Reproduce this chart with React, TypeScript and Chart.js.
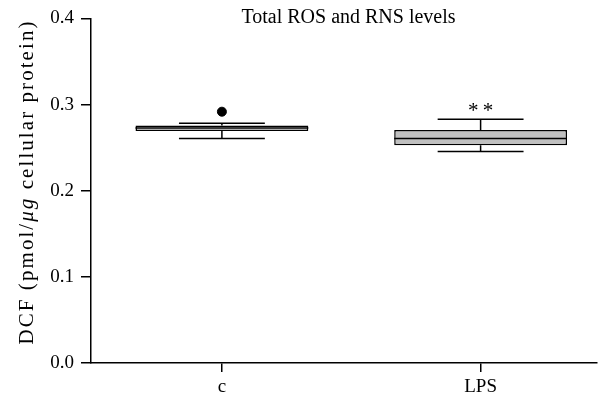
import React, { useEffect, useRef } from "react";
import { Chart, registerables } from "chart.js";

Chart.register(...registerables);

const categories = ["c", "LPS"];
const whiskerMin = [0.2605, 0.2454];
const q1 = [0.2694, 0.2528];
const median = [0.2728, 0.2605];
const q3 = [0.2757, 0.2705];
const whiskerMax = [0.2783, 0.2829];
const outliers = [{ cat: 0, value: 0.2917 }];
const significance = ["", "**"];
const yTicks = [0, 0.1, 0.2, 0.3, 0.4];
const boxColors = ["#e6e6e6", "#c0c0c0"];

const FONT = "'Liberation Serif', 'Times New Roman', serif";

export default function App() {
  const ref = useRef<HTMLCanvasElement | null>(null);

  useEffect(() => {
    if (!ref.current) return;
    const capHalf = 0.166;

    const boxPlugin = {
      id: "boxExtras",
      afterDatasetsDraw(chart: any) {
        const ctx = chart.ctx;
        const xs = chart.scales.x;
        const ys = chart.scales.y;
        const meta = chart.getDatasetMeta(0);
        ctx.save();
        ctx.strokeStyle = "#000";
        ctx.lineWidth = 1.5;
        categories.forEach((_, i) => {
          const bar = meta.data[i];
          const cx = xs.getPixelForValue(i);
          const half = bar.width / 2;
          const my = ys.getPixelForValue(median[i]);
          ctx.beginPath();
          ctx.moveTo(cx - half, my);
          ctx.lineTo(cx + half, my);
          ctx.stroke();
          const yTop = ys.getPixelForValue(q3[i]);
          const yBot = ys.getPixelForValue(q1[i]);
          const yMax = ys.getPixelForValue(whiskerMax[i]);
          const yMin = ys.getPixelForValue(whiskerMin[i]);
          const xl = xs.getPixelForValue(i - capHalf);
          const xr = xs.getPixelForValue(i + capHalf);
          ctx.beginPath();
          ctx.moveTo(cx, yTop);
          ctx.lineTo(cx, yMax);
          ctx.moveTo(xl, yMax);
          ctx.lineTo(xr, yMax);
          ctx.moveTo(cx, yBot);
          ctx.lineTo(cx, yMin);
          ctx.moveTo(xl, yMin);
          ctx.lineTo(xr, yMin);
          ctx.stroke();
          if (significance[i]) {
            ctx.fillStyle = "#000";
            ctx.font = `21px ${FONT}`;
            ctx.textAlign = "center";
            ctx.textBaseline = "middle";
            ctx.fillText(significance[i].split("").join("\u2009"), cx, yMax - 8);
          }
        });
        ctx.restore();
      },
      afterDraw(chart: any) {
        const ctx = chart.ctx;
        ctx.save();
        ctx.fillStyle = "#000";
        ctx.font = `20px ${FONT}`;
        ctx.textAlign = "center";
        ctx.textBaseline = "alphabetic";
        ctx.fillText("Total ROS and RNS levels", 348.5, 23);
        const parts = [
          { t: "DCF (pmol/", it: false },
          { t: "\u03BCg", it: true },
          { t: " cellular protein)", it: false },
        ];
        const size = 21;
        let total = 0;
        let chars = 0;
        parts.forEach((p) => {
          ctx.font = `${p.it ? "italic " : ""}${size}px ${FONT}`;
          total += ctx.measureText(p.t).width;
          chars += p.t.length;
        });
        const targetLen = 325;
        const spacing = Math.max(0, (targetLen - total) / chars);
        ctx.translate(33, 182);
        ctx.rotate(-Math.PI / 2);
        ctx.textAlign = "left";
        let x = -targetLen / 2;
        parts.forEach((p) => {
          ctx.font = `${p.it ? "italic " : ""}${size}px ${FONT}`;
          for (const ch of p.t) {
            ctx.fillText(ch, x, 0);
            x += ctx.measureText(ch).width + spacing;
          }
        });
        ctx.restore();
      },
    };

    const chart = new Chart(ref.current, {
      type: "bar",
      data: {
        datasets: [
          {
            type: "bar",
            data: categories.map((_, i) => ({ x: i, y: [q1[i], q3[i]] })) as any,
            backgroundColor: boxColors,
            borderColor: "#000",
            borderWidth: 1.5,
            borderSkipped: false,
            barPercentage: 0.668,
            categoryPercentage: 1,
          } as any,
          {
            type: "scatter",
            data: outliers.map((o) => ({ x: o.cat, y: o.value })),
            backgroundColor: "#000",
            borderColor: "#000",
            pointRadius: 4.5,
          } as any,
        ],
      },
      options: {
        animation: false,
        responsive: true,
        maintainAspectRatio: false,
        layout: { padding: { top: 17, right: 0, left: 0, bottom: 0 } },
        plugins: {
          legend: { display: false },
          tooltip: { enabled: false },
          title: { display: false },
        },
        scales: {
          x: {
            type: "linear",
            offset: false,
            min: -0.506,
            max: 1.448,
            afterBuildTicks: (s: any) => {
              s.ticks = categories.map((_, i) => ({ value: i }));
            },
            ticks: {
              callback: (v: any) => categories[v] ?? "",
              color: "#000",
              font: { family: FONT, size: 19 },
              padding: 4,
            },
            grid: {
              offset: false,
              drawOnChartArea: false,
              drawTicks: true,
              tickLength: 9,
              color: "#000",
              lineWidth: 1.5,
            },
            border: { color: "#000", width: 1.5 },
            afterFit: (s: any) => {
              s.height = 37;
            },
          },
          y: {
            type: "linear",
            min: 0,
            max: 0.4,
            afterBuildTicks: (s: any) => {
              s.ticks = yTicks.map((v) => ({ value: v }));
            },
            ticks: {
              callback: (v: any) => Number(v).toFixed(1),
              color: "#000",
              font: { family: FONT, size: 19 },
              padding: 7,
            },
            grid: {
              drawOnChartArea: false,
              drawTicks: true,
              tickLength: 10,
              color: "#000",
              lineWidth: 1.5,
            },
            border: { color: "#000", width: 1.5 },
            afterFit: (s: any) => {
              s.width = 91;
            },
          },
        },
      },
      plugins: [boxPlugin],
    });
    return () => chart.destroy();
  }, []);

  return (
    <div style={{ position: "fixed", left: 0, top: 0, width: 602, height: 400, background: "#fff" }}>
      <canvas ref={ref} />
    </div>
  );
}
